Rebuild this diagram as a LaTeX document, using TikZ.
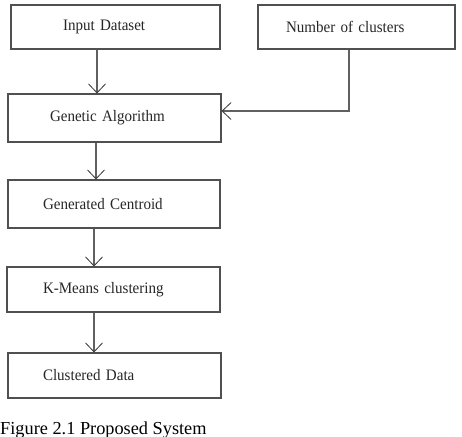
\documentclass[tikz,border=0pt]{standalone}
\usepackage{fontspec}
\setmainfont{Liberation Serif}
\newfontfamily\boxfont[FakeStretch=0.94,WordSpace=0.6]{Liberation Serif}
\usetikzlibrary{arrows.meta}
\definecolor{boxline}{HTML}{505050}
\definecolor{arrline}{HTML}{606060}
\begin{document}
\begin{tikzpicture}[x=1pt,y=-1pt,
  box/.style={draw=boxline, line width=1.1pt, inner sep=0pt, align=left,
    font=\boxfont\fontsize{16}{19}\selectfont, text=black!85},
  arr/.style={draw=arrline, line width=1.2pt,
    -{Straight Barb[length=9pt,width=17pt,line width=0.8pt,color=black!80]}}]
\useasboundingbox (0,0) rectangle (462,436);
\node[box, text width=209pt, minimum height=44pt] (in) at (115.5,27) {\hspace*{52pt}Input Dataset};
\node[box, text width=197pt, minimum height=44pt] (nc) at (356.5,27) {\hspace*{28pt}Number of clusters};
\node[box, text width=213pt, minimum height=48pt] (ga) at (114.5,118) {\hspace*{42pt}Genetic Algorithm};
\node[box, text width=212pt, minimum height=48pt] (gc) at (114,204) {\hspace*{35pt}Generated Centroid};
\node[box, text width=213pt, minimum height=45pt] (km) at (113.5,289.5) {\hspace*{36pt}K-Means clustering};
\node[box, text width=213pt, minimum height=45pt] (cd) at (114.5,375.5) {\hspace*{35pt}Clustered Data};
\node[anchor=base west, inner sep=0pt, font=\fontsize{18.3}{22}\selectfont] (cap) at (0,434) {Figure 2.1 Proposed System};
\coordinate (x1) at (97,0);
\coordinate (x2) at (96,0);
\coordinate (x3) at (94,0);
\coordinate (xk) at (349,0);
\coordinate (yk) at (0,111);
\draw[arr] (in.south -| x1) -- (ga.north -| x1);
\draw[arr] (nc.south -| xk) |- (ga.east |- yk);
\draw[arr] (ga.south -| x2) -- (gc.north -| x2);
\draw[arr] (gc.south -| x3) -- (km.north -| x3);
\draw[arr] (km.south -| x3) -- (cd.north -| x3);
\end{tikzpicture}
\end{document}
